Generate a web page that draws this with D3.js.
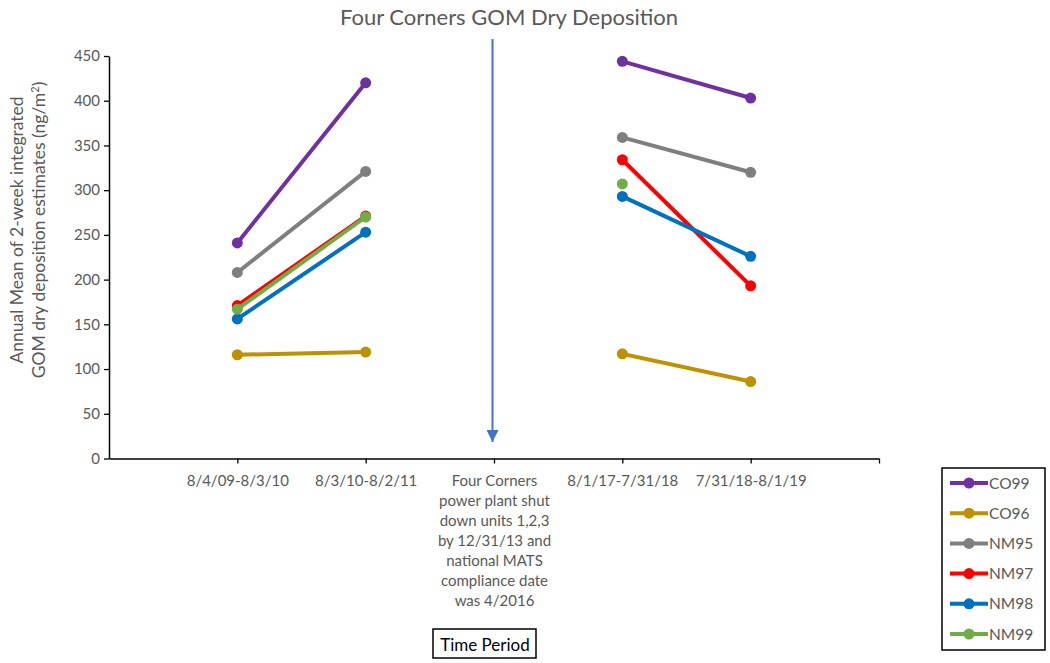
<!DOCTYPE html>
<html>
<head>
<meta charset="utf-8">
<script src="https://cdn.jsdelivr.net/npm/d3@7"></script>
<style>
  body { margin: 0; background: #fff; }
  text { font-family: Lato, "Open Sans", sans-serif; fill: #595959; }
</style>
</head>
<body>
<div id="chart"></div>
<script>
// data
const periods = [
  "8/4/09-8/3/10",
  "8/3/10-8/2/11",
  "Four Corners|power plant shut|down units 1,2,3|by 12/31/13 and|national MATS|compliance date|was 4/2016",
  "8/1/17-7/31/18",
  "7/31/18-8/1/19"
];
const stations = ["CO99", "CO96", "NM95", "NM97", "NM98", "NM99"];
const co99 = [241, 420, null, 444, 403];
const co96 = [116, 119, null, 117, 86];
const nm95 = [208, 321, null, 359, 320];
const nm97 = [171, 271, null, 334, 193];
const nm98 = [156, 253, null, 293, 226];
const nm99 = [167, 270, null, 307, null];
const yTicks = [0, 50, 100, 150, 200, 250, 300, 350, 400, 450];
const colors = ["#7030A0", "#BF9000", "#7F7F7F", "#FF0000", "#0070C0", "#70AD47"];

const W = 1050, H = 663;
const plot = { left: 109, right: 879, top: 56, bottom: 458.5 };

const svg = d3.select("#chart").append("svg")
  .attr("width", W).attr("height", H);

const x = d3.scaleLinear().domain([0, 6]).range([plot.left, plot.right]);
const y = d3.scaleLinear().domain([0, 450]).range([plot.bottom, plot.top]);

// title
svg.append("text")
  .attr("x", 509).attr("y", 25)
  .attr("text-anchor", "middle")
  .style("font-size", "22px")
  .text("Four Corners GOM Dry Deposition");

// y axis
const yAxis = svg.append("g")
  .attr("transform", `translate(${plot.left},0)`)
  .call(d3.axisLeft(y).tickValues(yTicks).tickSize(5).tickSizeOuter(0));
yAxis.select(".domain").attr("stroke", "#000").attr("stroke-width", 1.5);
yAxis.selectAll(".tick line").attr("stroke", "#000").attr("stroke-width", 1.3);
yAxis.selectAll(".tick text")
  .attr("x", -9)
  .style("font-size", "15px")
  .style("font-family", "Lato, sans-serif")
  .attr("fill", "#595959");

// x axis
const xAxis = svg.append("g")
  .attr("transform", `translate(0,${plot.bottom})`)
  .call(d3.axisBottom(x).tickValues([1, 2, 3, 4, 5, 6]).tickSize(5).tickSizeOuter(0)
    .tickFormat(d => periods[d - 1] || ""));
xAxis.select(".domain").attr("stroke", "#000").attr("stroke-width", 1.5);
xAxis.selectAll(".tick line").attr("stroke", "#000").attr("stroke-width", 1.3);
xAxis.selectAll(".tick text")
  .style("font-size", "15px")
  .style("font-family", "Lato, sans-serif")
  .attr("fill", "#595959")
  .each(function (d) {
    const lines = (periods[d - 1] || "").split("|");
    const t = d3.select(this).text("").attr("y", 27).attr("dy", null);
    lines.forEach((l, i) => {
      t.append("tspan").attr("x", 0).attr("y", 27 + i * 20).text(l);
    });
  });

// y axis title
const yTitle = svg.append("text")
  .attr("transform", "translate(0,230) rotate(-90)")
  .attr("text-anchor", "middle")
  .style("font-size", "17.5px");
yTitle.append("tspan").attr("x", 0).attr("y", 23).text("Annual Mean of 2-week integrated");
const l2 = yTitle.append("tspan").attr("x", 0).attr("y", 45).text("GOM dry deposition estimates (ng/m");
l2.append("tspan").attr("dy", -6).style("font-size", "11px").text("2");
l2.append("tspan").attr("dy", 6).text(")");

// x axis title box
svg.append("text")
  .attr("x", 485).attr("y", 651)
  .attr("text-anchor", "middle")
  .style("font-size", "17px")
  .style("fill", "#000")
  .text("Time Period");
svg.append("rect")
  .attr("x", 433).attr("y", 629).attr("width", 103).attr("height", 29)
  .attr("fill", "none").attr("stroke", "#000").attr("stroke-width", 1.5);

// shutdown arrow
svg.append("defs").append("marker")
  .attr("id", "arrow")
  .attr("viewBox", "0 0 10 10")
  .attr("refX", 10).attr("refY", 5)
  .attr("markerWidth", 6).attr("markerHeight", 6)
  .attr("markerUnits", "strokeWidth")
  .attr("orient", "auto")
  .append("path").attr("d", "M0,0L10,5L0,10Z").attr("fill", "#4472C4");
svg.append("line")
  .attr("x1", x(3) - 1.5).attr("x2", x(3) - 1.5)
  .attr("y1", 39).attr("y2", 442)
  .attr("stroke", "#4472C4").attr("stroke-width", 2)
  .attr("marker-end", "url(#arrow)");

// series
const series = [co99, co96, nm95, nm97, nm98, nm99];
const line = d3.line()
  .defined(d => d.v != null)
  .x(d => x(d.i + 1))
  .y(d => y(d.v));

series.forEach((vals, k) => {
  const pts = vals.map((v, i) => ({ v, i }));
  svg.append("path")
    .datum(pts)
    .attr("d", line)
    .attr("fill", "none")
    .attr("stroke", colors[k])
    .attr("stroke-width", 4);
  svg.selectAll(null)
    .data(pts.filter(d => d.v != null))
    .enter().append("circle")
    .attr("cx", d => x(d.i + 1))
    .attr("cy", d => y(d.v))
    .attr("r", 5.5)
    .attr("fill", colors[k]);
});

// legend
const legend = svg.append("g");
legend.append("rect")
  .attr("x", 942).attr("y", 468).attr("width", 103).attr("height", 182)
  .attr("fill", "none").attr("stroke", "#000").attr("stroke-width", 1.5);
const ly = d3.scalePoint().domain(stations).range([483, 634]);
stations.forEach((s, k) => {
  legend.append("line")
    .attr("x1", 950).attr("x2", 988)
    .attr("y1", ly(s)).attr("y2", ly(s))
    .attr("stroke", colors[k]).attr("stroke-width", 4);
  legend.append("circle")
    .attr("cx", 969).attr("cy", ly(s)).attr("r", 5.5)
    .attr("fill", colors[k]);
  legend.append("text")
    .attr("x", 989).attr("y", ly(s) + 5.5)
    .style("font-size", "15.5px")
    .text(s);
});
</script>
</body>
</html>
